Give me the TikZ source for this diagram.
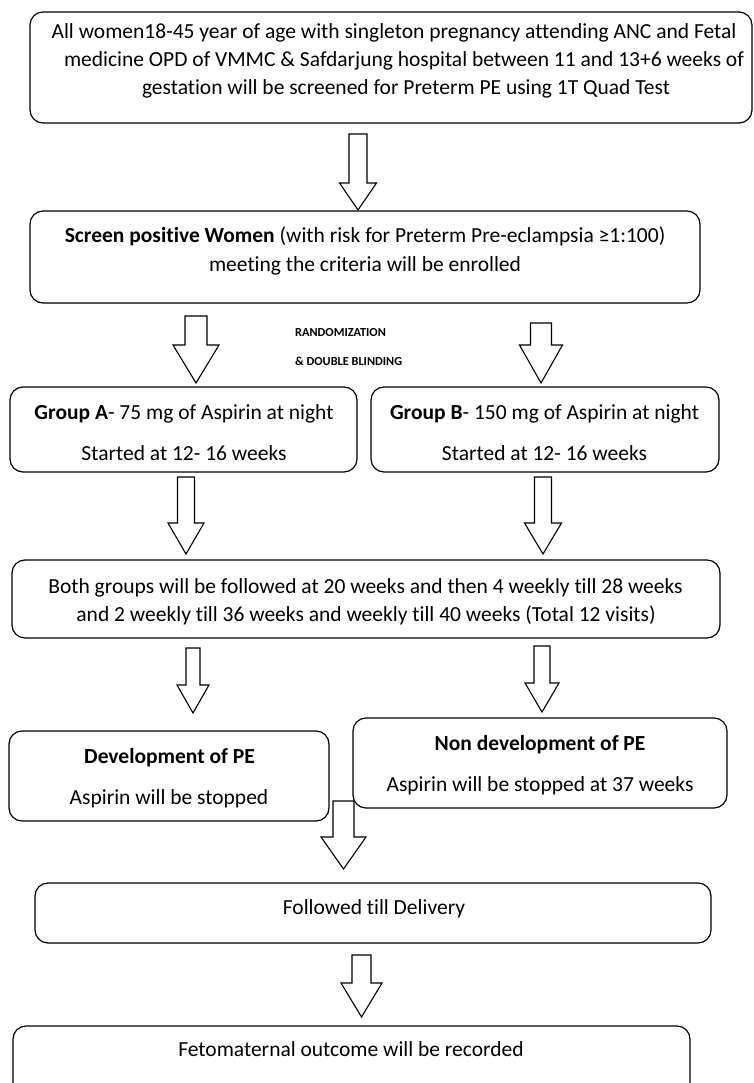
\documentclass[tikz,border=0pt]{standalone}
\usepackage{fontspec}
\setmainfont{Carlito}[Ligatures={NoCommon}]
\begin{document}
\begin{tikzpicture}[x=1pt,y=-1pt,
  box/.style={draw, line width=1.2pt, rounded corners=13pt, fill=white},
  barrow/.style={draw, line width=1.1pt, fill=white, line join=miter},
  txt/.style={anchor=base, inner sep=0pt, font=\fontsize{21.5}{25}\selectfont},
  small/.style={anchor=base west, inner sep=0pt, font=\fontsize{12.3}{14}\selectfont\bfseries}]
\useasboundingbox (0,0) rectangle (753,1083);
\clip (0,0) rectangle (753,1083);
\newcommand\blockarr[6]{%
  \draw[barrow] ({#1-#5},#2) -- ({#1+#5},#2) -- ({#1+#5},#3) -- ({#1+#6},#3)
    -- (#1,#4) -- ({#1-#6},#3) -- ({#1-#5},#3) -- cycle;}
% boxes
\draw[box] (30,12) rectangle (752,123) coordinate (b1);
\draw[box] (30,211) rectangle (700,303) coordinate (b2);
\draw[box] (10,387) rectangle (357,472) coordinate (ga);
\draw[box] (371,387) rectangle (719,472) coordinate (gb);
\draw[box] (12,560) rectangle (720,638) coordinate (both);
\draw[box] (9,731) rectangle (329,821) coordinate (dev);
\draw[box] (353,718) rectangle (727,808) coordinate (ndev);
\draw[box] (35,883) rectangle (711,943) coordinate (fol);
\draw[box] (13,1026) rectangle (690,1100) coordinate (fin);
% arrows
\blockarr{358}{134}{183}{210}{9}{18.5}
\blockarr{196}{316}{345}{383}{11}{23}
\blockarr{541}{323}{345}{383}{10.5}{21.5}
\blockarr{186}{477}{523}{554}{8.5}{18}
\blockarr{543}{477}{523}{554}{8.5}{18.5}
\blockarr{193}{648}{685}{713}{7}{16}
\blockarr{542}{646}{683}{712}{8}{17}
\blockarr{343.5}{801}{837}{869}{10.5}{22.5}
\blockarr{361.5}{955}{983}{1017}{9.5}{20.5}
% texts
\node[txt] (t1a) at (394,38.5) {All women18-45 year of age with singleton pregnancy attending ANC and Fetal};
\node[txt] (t1b) at (404,67) {medicine OPD of VMMC \& Safdarjung hospital between 11 and 13+6 weeks of};
\node[txt] (t1c) at (406,95) {gestation will be screened for Preterm PE using 1T Quad Test};
\node[txt] (t2a) at (365,243) {\textbf{Screen positive Women} (with risk for Preterm Pre-eclampsia ≥1:100)};
\node[txt] (t2b) at (365,271) {meeting the criteria will be enrolled};
\node[small] (r1) at (295,336) {RANDOMIZATION};
\node[small] (r2) at (295,365) {\& DOUBLE BLINDING};
\node[txt] (tga1) at (184,419) {\textbf{Group A}- 75 mg of Aspirin at night};
\node[txt] (tga2) at (184,460) {Started at 12- 16 weeks};
\node[txt] (tgb1) at (544.5,419) {\textbf{Group B}- 150 mg of Aspirin at night};
\node[txt] (tgb2) at (544.5,460) {Started at 12- 16 weeks};
\node[txt] (tb1) at (365.5,593) {Both groups will be followed at 20 weeks and then 4 weekly till 28 weeks};
\node[txt] (tb2) at (366,621) {and 2 weekly till 36 weeks and weekly till 40 weeks (Total 12 visits)};
\node[txt] (td1) at (169.5,763) {\textbf{Development of PE}};
\node[txt] (td2) at (169,804) {Aspirin will be stopped};
\node[txt] (tn1) at (540,750) {\textbf{Non development of PE}};
\node[txt] (tn2) at (540,791) {Aspirin will be stopped at 37 weeks};
\node[txt] (tf) at (374,914) {Followed till Delivery};
\node[txt] (to) at (351,1056) {Fetomaternal outcome will be recorded};
\end{tikzpicture}
\end{document}
